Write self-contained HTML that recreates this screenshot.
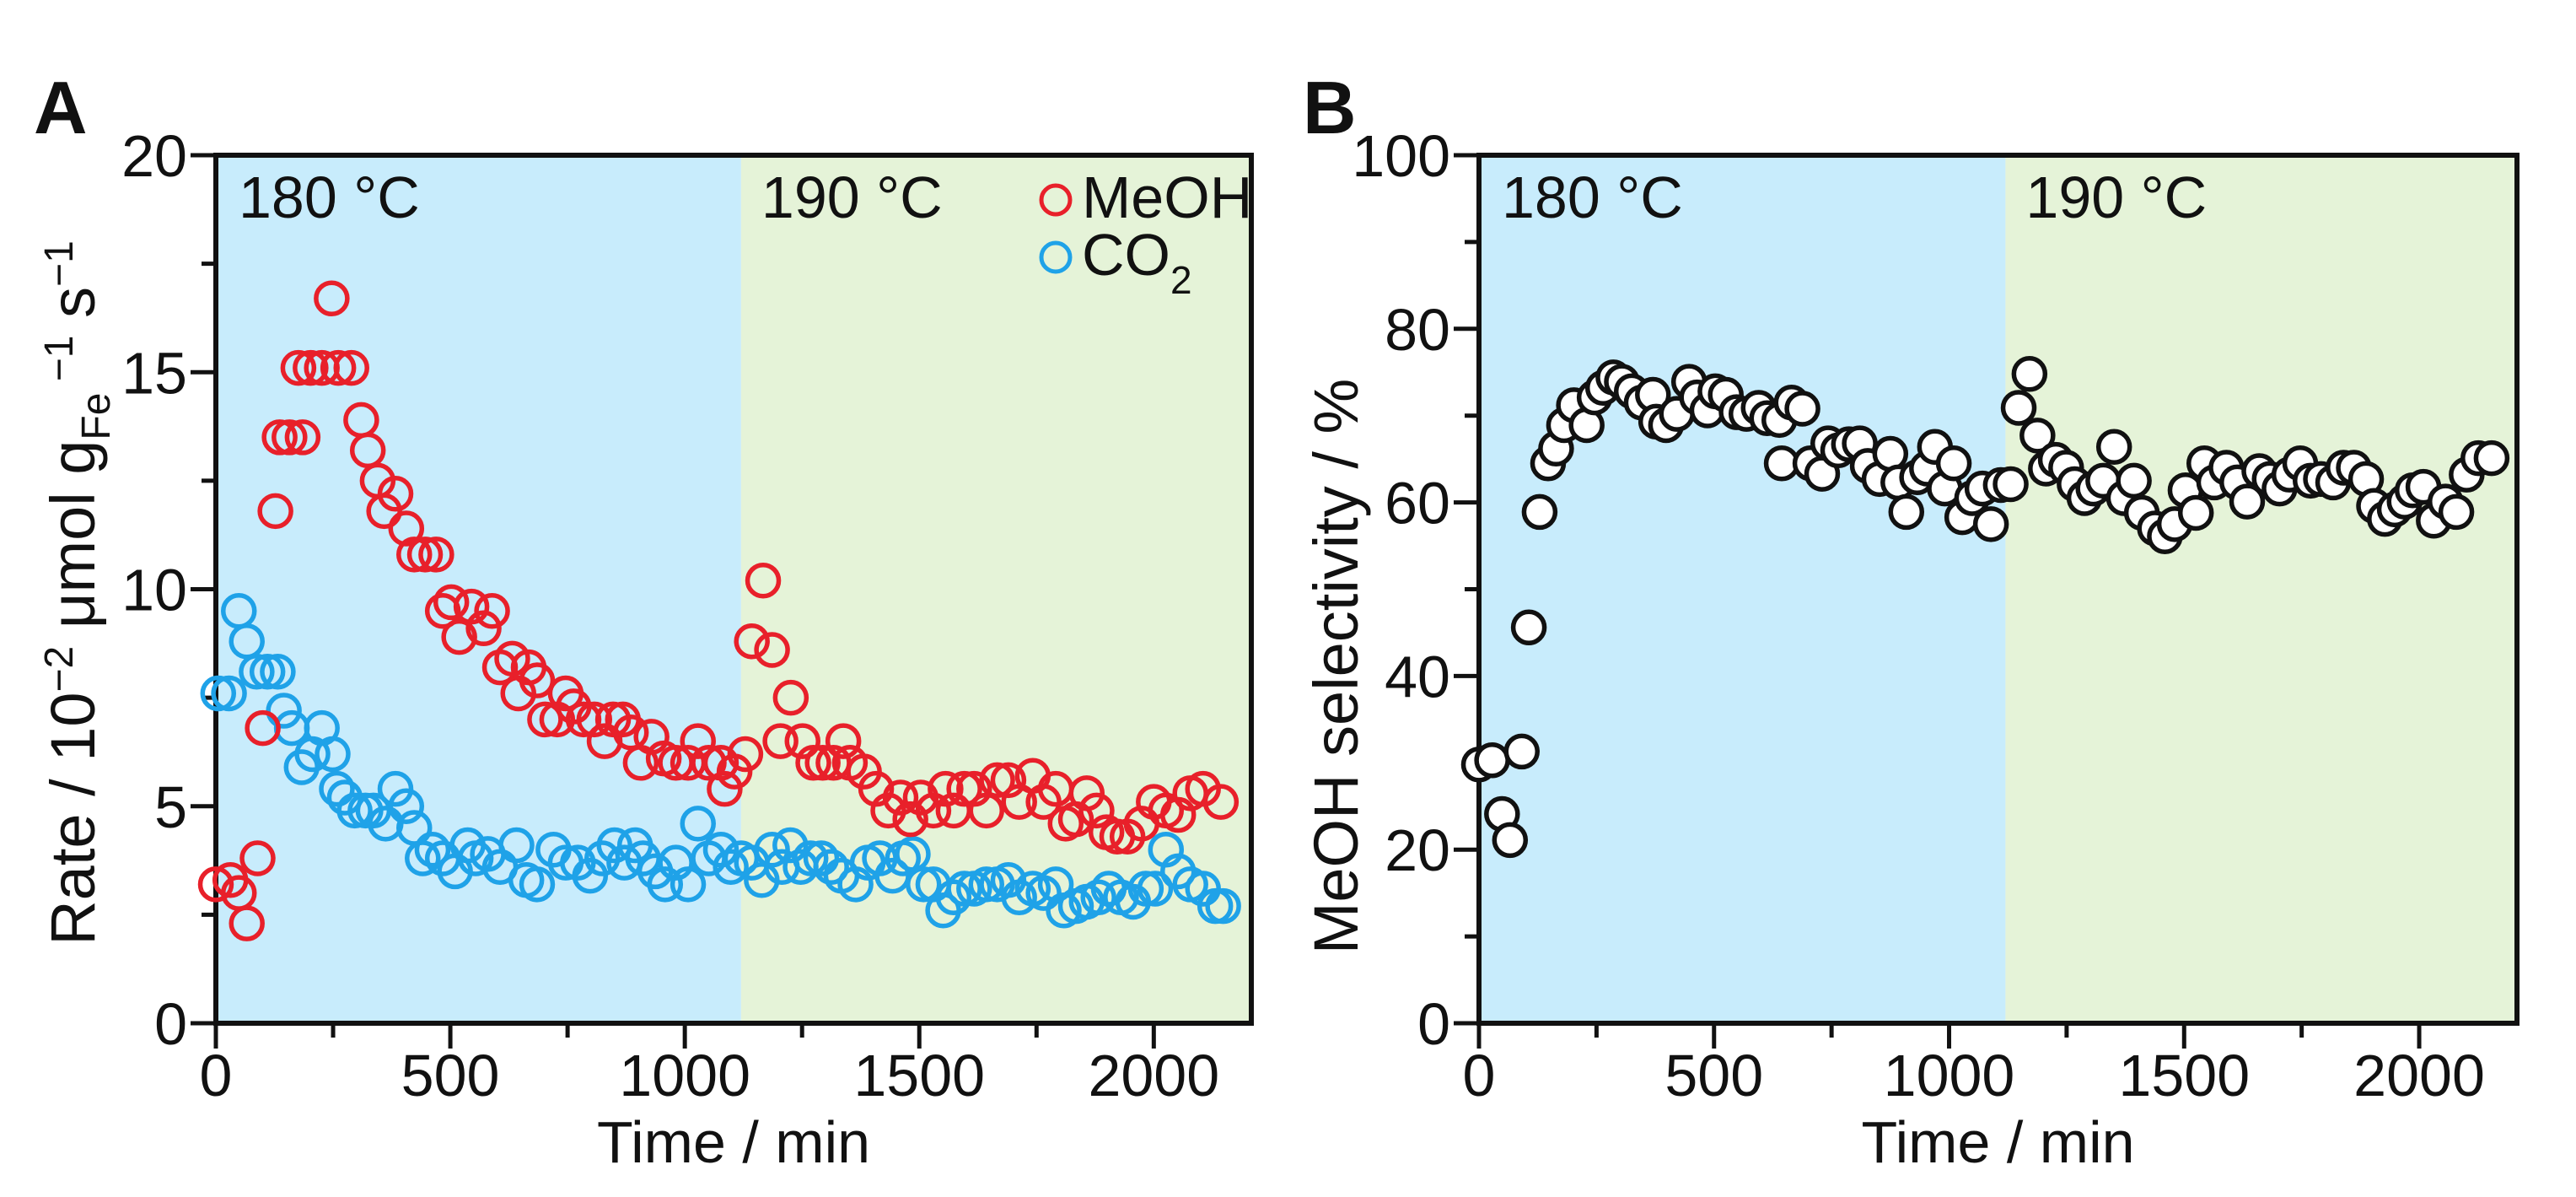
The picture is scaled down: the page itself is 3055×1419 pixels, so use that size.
<!DOCTYPE html>
<html><head><meta charset="utf-8"><style>
html,body{margin:0;padding:0;background:#fff;}
svg{display:block;font-family:"Liberation Sans",Arial,sans-serif;}
</style></head><body>
<svg id="fig" width="3055" height="1419" viewBox="0 0 3055 1419" xmlns="http://www.w3.org/2000/svg">
<g id="pa"></g>
<g id="pb"></g>
</svg>
<script>
const meohT=[0,31,49,66,89,100,127,136,157,185,176,202,226,247,261,289,310,324,345,359,383,406,423,446,470,484,502,519,545,571,589,606,632,645,667,685,702,728,746,763,784,807,829,847,868,885,906,929,955,981,1007,1028,1051,1077,1085,1106,1129,1143,1167,1186,1204,1226,1251,1274,1294,1317,1338,1352,1382,1408,1434,1460,1481,1503,1530,1556,1573,1596,1617,1643,1666,1690,1713,1742,1765,1791,1812,1834,1857,1878,1899,1922,1944,1974,2000,2026,2052,2078,2105,2143];
const meohV=[3.2,3.3,3.0,2.3,3.8,6.8,11.8,13.5,13.5,13.5,15.1,15.1,15.1,16.7,15.1,15.1,13.9,13.2,12.5,11.8,12.2,11.4,10.8,10.8,10.8,9.5,9.7,8.9,9.6,9.1,9.5,8.2,8.4,7.6,8.2,7.9,7.0,7.0,7.6,7.3,7.0,7.0,6.5,7.0,7.0,6.7,6.0,6.6,6.1,6.0,6.0,6.5,6.0,6.0,5.4,5.8,6.2,8.8,10.2,8.6,6.5,7.5,6.5,6.0,6.0,6.0,6.5,6.0,5.8,5.4,4.9,5.2,4.7,5.2,4.9,5.4,4.9,5.4,5.4,4.9,5.6,5.6,5.1,5.7,5.1,5.4,4.6,4.7,5.3,4.9,4.4,4.3,4.3,4.6,5.1,4.9,4.8,5.3,5.4,5.1];
const co2T=[5,28,49,66,87,110,132,145,162,183,206,226,249,258,275,296,319,336,362,383,406,423,441,462,484,510,537,554,580,606,641,662,685,720,746,772,798,824,850,871,894,911,937,958,981,1007,1028,1051,1077,1098,1120,1143,1164,1186,1207,1225,1247,1268,1291,1312,1334,1364,1390,1416,1443,1465,1486,1509,1530,1551,1573,1596,1617,1643,1666,1690,1713,1742,1765,1791,1808,1834,1857,1882,1904,1930,1956,1983,2003,2026,2052,2078,2105,2131,2148];
const co2V=[7.6,7.6,9.5,8.8,8.1,8.1,8.1,7.2,6.8,5.9,6.2,6.8,6.2,5.4,5.2,4.9,4.9,4.9,4.6,5.4,5.0,4.5,3.8,4.0,3.8,3.5,4.1,3.8,3.9,3.6,4.1,3.3,3.2,4.0,3.7,3.7,3.4,3.8,4.1,3.7,4.1,3.8,3.5,3.2,3.7,3.2,4.6,3.8,4.0,3.6,3.8,3.7,3.3,4.0,3.6,4.1,3.6,3.8,3.8,3.6,3.4,3.2,3.7,3.8,3.4,3.8,3.9,3.2,3.2,2.6,2.9,3.1,3.1,3.2,3.2,3.3,2.9,3.1,3.0,3.2,2.6,2.7,2.8,2.9,3.1,2.9,2.8,3.1,3.1,4.0,3.5,3.2,3.1,2.7,2.7];
const selT=[0,28,49,66,91,106,129,147,164,181,202,229,246,264,286,304,325,346,370,377,398,421,447,464,486,503,525,548,569,595,613,639,644,665,688,705,730,743,764,787,810,827,852,875,892,909,932,953,970,991,1010,1028,1049,1071,1089,1110,1131,1148,1171,1188,1206,1227,1249,1267,1288,1307,1328,1351,1372,1393,1410,1438,1459,1480,1503,1525,1543,1564,1590,1613,1634,1660,1682,1703,1724,1747,1769,1791,1817,1839,1861,1887,1904,1927,1948,1969,1986,2009,2031,2056,2079,2101,2126,2154];
const selV=[29.8,30.3,24.1,21.1,31.3,45.6,58.9,64.5,66.2,68.9,71.2,68.9,72.1,73.2,74.4,73.9,72.8,71.5,72.4,69.3,68.9,70.2,73.9,72.1,70.6,72.8,72.4,70.4,70.2,70.9,69.7,69.5,64.5,71.5,70.8,64.5,63.3,66.8,66.0,66.7,66.8,64.2,62.7,65.6,62.3,58.9,62.9,63.9,66.4,61.6,64.5,58.3,60.5,61.6,57.5,62.0,62.1,70.9,74.8,67.7,63.9,64.9,64.0,62.1,60.5,61.6,62.5,66.4,60.5,62.5,58.8,57.0,56.1,57.5,61.4,58.8,64.5,62.3,64.0,62.3,60.1,63.6,62.7,61.6,63.2,64.5,62.5,62.7,62.3,64.0,64.0,62.7,59.6,58.1,59.2,60.1,61.4,61.8,57.9,60.1,58.9,63.2,65.1,65.1];
const xTicks=[0,500,1000,1500,2000];
const aYTicks=[0,5,10,15,20];
const bYTicks=[0,20,40,60,80,100];
const switchT=1120;

const NS="http://www.w3.org/2000/svg";
function mk(p,tag,at,txt){const e=document.createElementNS(NS,tag);for(const k in at)e.setAttribute(k,at[k]);if(txt!==undefined)e.textContent=txt;p.appendChild(e);return e;}
const TOP=184,BOT=1213,XMAX=2208,MR=18.5,MW=5.5;
function panel(g,L,R,ymax,yTicks,yMinor){
  const sx=t=>L+(R-L)*t/XMAX, sy=v=>BOT-(BOT-TOP)*v/ymax;
  let r=mk(g,'rect',{x:L,y:TOP,width:sx(switchT)-L,height:BOT-TOP,fill:'#c8ecfc'});
  
  
  r=mk(g,'rect',{x:sx(switchT),y:TOP,width:R-sx(switchT),height:BOT-TOP,fill:'#e5f3d8'});
  
  
  const ax=mk(g,'g',{stroke:'#111','stroke-width':5});
  
  
  for(let t=0;t<=XMAX;t+=250){const maj=t%500===0;mk(ax,'line',{x1:sx(t),x2:sx(t),y1:BOT,y2:BOT+(maj?30:17)});}
  for(let v=0;v<=ymax+1e-9;v+=yMinor){const maj=yTicks.some(y=>Math.abs(y-v)<1e-9);mk(ax,'line',{x1:L,x2:L-(maj?30:17),y1:sy(v),y2:sy(v)});}
  const fr=mk(g,'rect',{x:L,y:TOP,width:R-L,height:BOT-TOP,fill:'none',stroke:'#111','stroke-width':6});
  
  
  xTicks.forEach(t=>{const e=mk(g,'text',{x:sx(t),y:1299,'text-anchor':'middle','font-size':70,fill:'#111'},String(t));
    
    });
  yTicks.forEach(v=>{const e=mk(g,'text',{x:L-34,y:sy(v)+25,'text-anchor':'end','font-size':70,fill:'#111'},String(v));
    
    });
  const xt=mk(g,'text',{x:(L+R)/2,y:1378,'text-anchor':'middle','font-size':70,fill:'#111'},'Time / min');
  
  
  let e=mk(g,'text',{x:L+27,y:258,'font-size':70,fill:'#111'},'180 °C');
  
  
  e=mk(g,'text',{x:sx(switchT)+24,y:258,'font-size':70,fill:'#111'},'190 °C');
  
  
  return {sx,sy};
}
function dots(g,name,T,V,s,stroke,fill){
  const gg=mk(g,'g',{});
  
  
  T.forEach((t,i)=>{const c=mk(gg,'circle',{cx:s.sx(t),cy:s.sy(V[i]),r:MR,fill:fill,stroke:stroke,'stroke-width':MW});
    
    });
}
const pa=document.getElementById('pa'),pb=document.getElementById('pb');
const sa=panel(pa,256,1484,20,aYTicks,2.5);
dots(pa,'co2-series',co2T,co2V,sa,'#1fa2e8','none');
dots(pa,'meoh-series',meohT,meohV,sa,'#e8202a','none');
const sb=panel(pb,1754,2985,100,bYTicks,10);
dots(pb,'selectivity-series',selT,selV,sb,'#111','#fff');

let lg=mk(pa,'g',{});


let c=mk(lg,'circle',{cx:1252,cy:237,r:17,fill:'none',stroke:'#e8202a','stroke-width':5});


let t=mk(lg,'text',{x:1283,y:258,'font-size':70,fill:'#111'},'MeOH');


c=mk(lg,'circle',{cx:1252,cy:305,r:17,fill:'none',stroke:'#1fa2e8','stroke-width':5});


t=mk(lg,'text',{x:1283,y:326,'font-size':70,fill:'#111'});


mk(t,'tspan',{},'CO');mk(t,'tspan',{dy:22,'font-size':46},'2');

t=mk(pa,'text',{transform:'translate(112,703) rotate(-90)','text-anchor':'middle','font-size':74,fill:'#111'});


mk(t,'tspan',{},'Rate / 10');mk(t,'tspan',{dy:-26,'font-size':48},'−2');
mk(t,'tspan',{dy:26},' μmol g');mk(t,'tspan',{dy:18,'font-size':48},'Fe');
mk(t,'tspan',{dy:-44,'font-size':48},' −1');mk(t,'tspan',{dy:26},' s');mk(t,'tspan',{dy:-26,'font-size':48},'−1');
t=mk(pb,'text',{transform:'translate(1610,790) rotate(-90)','text-anchor':'middle','font-size':74,fill:'#111'},'MeOH selectivity / %');


t=mk(pa,'text',{x:40,y:158,'font-size':88,'font-weight':'bold',fill:'#111'},'A');


t=mk(pb,'text',{x:1545,y:158,'font-size':88,'font-weight':'bold',fill:'#111'},'B');


</script>
</body></html>
